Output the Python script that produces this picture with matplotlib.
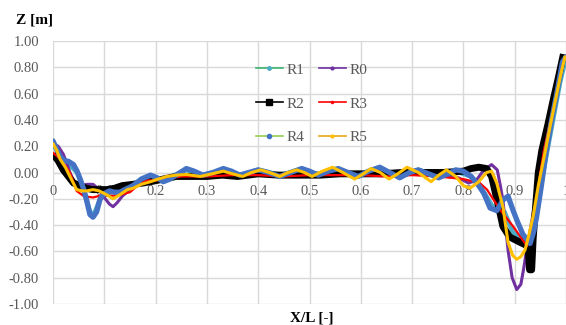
import matplotlib
matplotlib.use('Agg')
import matplotlib.pyplot as plt
from matplotlib.lines import Line2D

plt.rcParams['font.family'] = ['Liberation Serif', 'DejaVu Serif']

# values (x = X/L, z = Z in m)
x_r1 = [0.000, 0.014, 0.030, 0.047, 0.060, 0.072, 0.080, 0.092, 0.110, 0.130, 0.156, 0.190, 0.215, 0.260,
        0.292, 0.332, 0.364, 0.400, 0.442, 0.485, 0.517, 0.556, 0.595, 0.637, 0.676, 0.712, 0.752, 0.785,
        0.815, 0.840, 0.860, 0.880, 0.897, 0.915, 0.930, 0.943, 0.955, 0.965, 0.977, 0.988, 1.000]
z_r1 = [0.22, 0.12, 0.07, 0.00, -0.13, -0.30, -0.32, -0.20, -0.14, -0.14, -0.10, -0.03, -0.06, 0.02,
        -0.02, 0.02, -0.02, 0.02, -0.02, 0.02, -0.02, 0.02, -0.02, 0.03, -0.03, 0.02, -0.03, 0.01,
        -0.03, -0.15, -0.28, -0.30, -0.46, -0.50, -0.53, -0.30, 0.00, 0.20, 0.45, 0.68, 0.88]

x_r0 = [0.000, 0.010, 0.020, 0.027, 0.033, 0.040, 0.046, 0.056, 0.066, 0.078, 0.090, 0.100, 0.110, 0.117,
        0.125, 0.135, 0.150, 0.170, 0.190, 0.220, 0.250, 0.280, 0.320, 0.360, 0.400, 0.450, 0.500, 0.550,
        0.600, 0.650, 0.700, 0.750, 0.790, 0.810, 0.825, 0.840, 0.855, 0.866, 0.872, 0.877, 0.882, 0.887,
        0.895, 0.904, 0.912, 0.918, 0.923, 0.932, 0.940, 0.947, 0.953, 0.965, 0.977, 0.988, 0.997]
z_r0 = [0.22, 0.20, 0.14, 0.07, 0.00, -0.06, -0.10, -0.10, -0.09, -0.09, -0.13, -0.19, -0.24, -0.26,
        -0.23, -0.18, -0.13, -0.08, -0.05, -0.04, -0.03, -0.03, -0.02, -0.02, -0.01, -0.01, -0.01, -0.01,
        -0.01, -0.01, -0.01, -0.02, -0.04, -0.08, -0.06, 0.02, 0.06, 0.02, -0.10, -0.21, -0.40, -0.59,
        -0.80, -0.89, -0.85, -0.72, -0.59, -0.40, -0.21, 0.00, 0.17, 0.38, 0.58, 0.76, 0.88]

x_r2 = [0.000, 0.010, 0.020, 0.030, 0.040, 0.053, 0.065, 0.078, 0.092, 0.105, 0.120, 0.135, 0.156, 0.175,
        0.190, 0.215, 0.240, 0.270, 0.300, 0.330, 0.360, 0.400, 0.440, 0.480, 0.520, 0.560, 0.600, 0.640,
        0.680, 0.720, 0.760, 0.800, 0.815, 0.830, 0.845, 0.855, 0.865, 0.872, 0.877, 0.890, 0.910, 0.926,
        0.929, 0.933, 0.936, 0.942, 0.946, 0.953, 0.965, 0.975, 0.985, 0.995]
z_r2 = [0.14, 0.09, 0.02, -0.03, -0.08, -0.10, -0.12, -0.13, -0.13, -0.13, -0.12, -0.10, -0.09, -0.08,
        -0.07, -0.05, -0.03, -0.03, -0.03, -0.02, -0.03, -0.01, -0.02, -0.02, -0.02, -0.01, -0.01, -0.01,
        0.00, 0.00, 0.00, 0.01, 0.03, 0.04, 0.03, -0.03, -0.20, -0.32, -0.41, -0.49, -0.53, -0.56,
        -0.74, -0.74, -0.50, -0.20, 0.00, 0.17, 0.37, 0.55, 0.72, 0.90]

x_r3 = [0.000, 0.015, 0.033, 0.046, 0.060, 0.078, 0.098, 0.110, 0.130, 0.150, 0.165, 0.180, 0.200, 0.220,
        0.250, 0.300, 0.350, 0.400, 0.450, 0.500, 0.550, 0.600, 0.650, 0.700, 0.750, 0.800, 0.832, 0.846,
        0.871, 0.897, 0.924, 0.935, 0.943, 0.950, 0.957, 0.968, 0.979, 0.990, 0.998]
z_r3 = [0.15, 0.10, 0.00, -0.14, -0.18, -0.19, -0.17, -0.18, -0.17, -0.15, -0.10, -0.06, -0.06, -0.05,
        -0.03, -0.03, -0.02, -0.02, -0.03, -0.02, -0.02, -0.02, -0.03, -0.02, -0.03, -0.05, -0.08, -0.13,
        -0.28, -0.41, -0.56, -0.40, -0.20, 0.00, 0.17, 0.37, 0.56, 0.75, 0.87]

x_r4 = [0.000, 0.007, 0.014, 0.022, 0.030, 0.040, 0.047, 0.053, 0.060, 0.066, 0.072, 0.078, 0.085, 0.092,
        0.100, 0.110, 0.120, 0.130, 0.140, 0.156, 0.172, 0.190, 0.203, 0.215, 0.228, 0.240, 0.260, 0.275,
        0.292, 0.312, 0.332, 0.348, 0.364, 0.382, 0.400, 0.420, 0.442, 0.463, 0.485, 0.500, 0.517, 0.537,
        0.556, 0.575, 0.595, 0.615, 0.637, 0.656, 0.676, 0.695, 0.712, 0.732, 0.752, 0.770, 0.785, 0.800,
        0.815, 0.830, 0.840, 0.852, 0.865, 0.877, 0.887, 0.897, 0.906, 0.916, 0.930, 0.937, 0.943, 0.952,
        0.962, 0.972, 0.983, 0.993, 1.000]
z_r4 = [0.24, 0.18, 0.12, 0.09, 0.085, 0.06, 0.01, -0.05, -0.13, -0.22, -0.32, -0.34, -0.30, -0.20,
        -0.16, -0.14, -0.15, -0.15, -0.13, -0.10, -0.05, -0.02, -0.04, -0.07, -0.05, -0.02, 0.03, 0.01,
        -0.02, 0.00, 0.03, 0.01, -0.02, 0.00, 0.02, 0.00, -0.03, 0.00, 0.03, 0.01, -0.02, 0.01,
        0.03, 0.00, -0.03, 0.01, 0.04, 0.00, -0.04, 0.00, 0.02, -0.01, -0.04, -0.01, 0.02, 0.01,
        -0.03, -0.10, -0.16, -0.27, -0.29, -0.21, -0.18, -0.29, -0.38, -0.47, -0.54, -0.45, -0.33, -0.10,
        0.17, 0.40, 0.62, 0.84, 0.88]

x_r5 = [0.000, 0.007, 0.014, 0.024, 0.033, 0.046, 0.056, 0.066, 0.078, 0.090, 0.105, 0.117, 0.130, 0.145,
        0.156, 0.172, 0.190, 0.205, 0.222, 0.240, 0.260, 0.287, 0.310, 0.332, 0.350, 0.370, 0.387, 0.405,
        0.422, 0.442, 0.458, 0.475, 0.490, 0.505, 0.525, 0.545, 0.565, 0.588, 0.605, 0.620, 0.638, 0.655,
        0.672, 0.690, 0.712, 0.737, 0.752, 0.767, 0.785, 0.800, 0.813, 0.830, 0.845, 0.855, 0.865, 0.877,
        0.887, 0.896, 0.904, 0.912, 0.920, 0.928, 0.936, 0.946, 0.960, 0.970, 0.980, 0.990, 0.998]
z_r5 = [0.22, 0.17, 0.10, 0.04, -0.03, -0.13, -0.14, -0.14, -0.13, -0.14, -0.17, -0.20, -0.17, -0.13,
        -0.12, -0.09, -0.07, -0.05, -0.03, -0.02, -0.015, -0.03, -0.01, 0.01, -0.01, -0.03, 0.00, 0.02,
        0.00, -0.03, 0.00, 0.02, 0.00, -0.03, 0.01, 0.04, 0.00, -0.05, -0.01, 0.03, 0.00, -0.05,
        -0.01, 0.04, 0.00, -0.07, -0.02, 0.02, -0.03, -0.10, -0.12, -0.07, 0.00, 0.01, -0.08, -0.26,
        -0.53, -0.63, -0.66, -0.64, -0.59, -0.47, -0.33, -0.10, 0.17, 0.37, 0.56, 0.75, 0.88]

x_ticks = [0.0, 0.1, 0.2, 0.3, 0.4, 0.5, 0.6, 0.7, 0.8, 0.9, 1.0]
x_tick_labels = ['0', '0.1', '0.2', '0.3', '0.4', '0.5', '0.6', '0.7', '0.8', '0.9', '1']
y_ticks = [1.0, 0.8, 0.6, 0.4, 0.2, 0.0, -0.2, -0.4, -0.6, -0.8, -1.0]

fig = plt.figure(figsize=(5.66, 3.25), dpi=100)
ax = fig.add_axes([53 / 566, 21 / 325, 513 / 566, 263 / 325])

grey = '#595959'
grid_col = '#d9d9d9'

# series in legend order, later ones on top
ax.plot(x_r1, z_r1, color='#4bacc6', lw=3.4, solid_capstyle='round', zorder=2)
ax.plot(x_r0, z_r0, color='#7030a0', lw=2.2, solid_capstyle='round', zorder=2)
ax.plot(x_r2, z_r2, color='black', lw=5.0, solid_capstyle='butt', zorder=2)
ax.plot(x_r3, z_r3, color='#ff0000', lw=1.6, zorder=2)
ax.plot(x_r4, z_r4, color='#4472c4', lw=3.8, solid_capstyle='round', zorder=2)
ax.plot(x_r5, z_r5, color='#ffc000', lw=2.2, solid_capstyle='round', zorder=2)

ax.set_xlim(0, 1)
ax.set_ylim(-1, 1)
ax.set_yticks(y_ticks)
ax.set_yticklabels(['%.2f' % v for v in y_ticks])
ax.set_xticks(x_ticks)
ax.set_xticklabels([])
ax.tick_params(axis='both', length=0, colors=grey, labelsize=10.5)
ax.tick_params(axis='y', pad=10)
ax.grid(True, color=grid_col, lw=1.0)
ax.set_axisbelow(True)
for s in ax.spines.values():
    s.set_visible(False)
ax.axhline(0, color=grid_col, lw=1.0, zorder=0.5)

# x tick labels sit under the z = 0 line
for xt, lab in zip(x_ticks, x_tick_labels):
    ax.annotate(lab, xy=(xt, 0), xytext=(0, -14), textcoords='offset points',
                ha='center', va='center', color=grey, fontsize=10.5, zorder=1,
                annotation_clip=False)

fig.text(16 / 566, 1 - 20 / 325, 'Z [m]', fontsize=11, fontweight='bold', va='center', ha='left')
fig.text(312 / 566, 1 - 318 / 325, 'X/L [-]', fontsize=11, fontweight='bold', va='center', ha='center')

handles = [
    Line2D([], [], color='#3cb371', lw=1.2, marker='o', ms=2.5, mfc='#4bacc6', mec='#4bacc6'),
    Line2D([], [], color='#7030a0', lw=1.2, marker='o', ms=2.0, mfc='#7030a0', mec='#7030a0'),
    Line2D([], [], color='black', lw=1.2, marker='s', ms=4.0, mfc='black', mec='black'),
    Line2D([], [], color='#ff0000', lw=1.2, marker='o', ms=1.5, mfc='#ff0000', mec='#ff0000'),
    Line2D([], [], color='#92d050', lw=1.2, marker='o', ms=3.0, mfc='#4472c4', mec='#4472c4'),
    Line2D([], [], color='#e6a817', lw=1.2, marker='o', ms=2.0, mfc='#ffc000', mec='#ffc000'),
]
labels = ['R1', 'R0', 'R2', 'R3', 'R4', 'R5']
# ncol=2 fills column-wise, so reorder to get R1 R0 / R2 R3 / R4 R5 by rows
order = [0, 2, 4, 1, 3, 5]
leg = ax.legend([handles[i] for i in order], [labels[i] for i in order], ncol=2,
                loc='upper left', bbox_to_anchor=(256 / 566, 1 - 63 / 325),
                bbox_transform=fig.transFigure, frameon=False, fontsize=11,
                handlelength=1.75, handletextpad=0.25, columnspacing=0.95,
                labelspacing=1.32, borderpad=0, borderaxespad=0)
for t in leg.get_texts():
    t.set_color(grey)

plt.savefig('out.png', format='png', dpi=100)
plt.close()
